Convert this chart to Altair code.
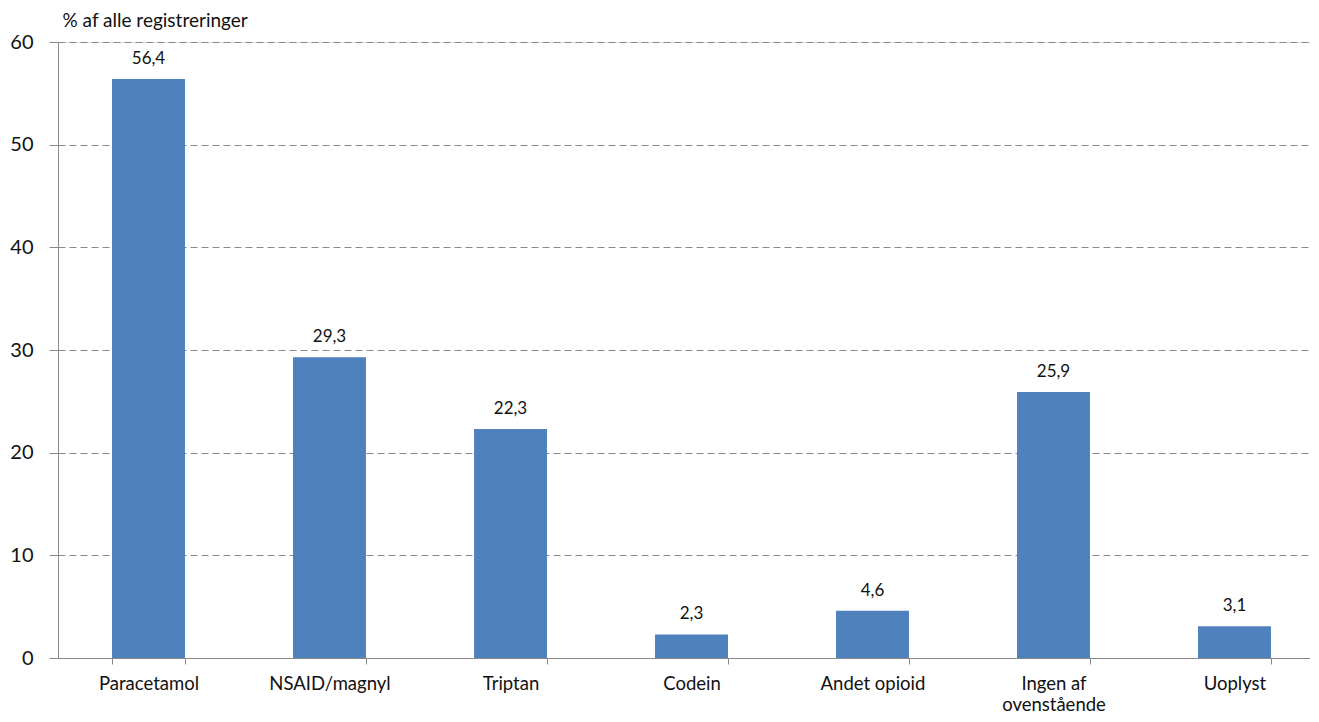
import altair as alt
import pandas as pd

categories = ["Paracetamol", "NSAID/magnyl", "Triptan", "Codein", "Andet opioid", "Ingen af ovenstående", "Uoplyst"]
values = [56.4, 29.3, 22.3, 2.3, 4.6, 25.9, 3.1]

df = pd.DataFrame({"kategori": categories, "pct": values})

FONT = "Lato"
x = alt.X("kategori:N", sort=categories, title=None,
          scale=alt.Scale(paddingInner=0.597, paddingOuter=0.2985, range=[0, 1267]),
          axis=alt.Axis(labelAngle=0, labelFontSize=18.5, labelColor="#111", labelFont=FONT,
                        labelPadding=10, labelLineHeight=21,
                        labelExpr="datum.label == 'Ingen af ovenstående' ? ['Ingen af', 'ovenstående'] : datum.label",
                        domainColor="#888", tickColor="#888", tickSize=6, tickBand="extent",
                        grid=False))
y = alt.Y("pct:Q", scale=alt.Scale(domain=[0, 60]),
          axis=alt.Axis(values=[0, 10, 20, 30, 40, 50, 60], labelFontSize=20, labelFont=FONT,
                        labelColor="#111", labelPadding=16, tickSize=9, tickColor="#888",
                        domainColor="#888", gridColor="#888", gridDash=[7, 4], gridWidth=1,
                        title="% af alle registreringer", titleAngle=0, titleAlign="left",
                        titleBaseline="middle", titleX=4, titleY=-22, titleFontSize=19,
                        titleFontWeight="normal", titleFont=FONT, titleColor="#111"))

bars = alt.Chart(df).mark_bar(color="#4F81BD").encode(x=x, y=y)
labels = alt.Chart(df).transform_calculate(
    lab="replace(format(datum.pct, '.1f'), '.', ',')"
).mark_text(dy=-20, fontSize=17, font=FONT, color="#111", baseline="middle").encode(
    x=alt.X("kategori:N", sort=categories), y="pct:Q", text="lab:N")

chart = (bars + labels).properties(
    width=1252, height=616,
    autosize=alt.AutoSizeParams(type="none"),
    padding={"left": 50, "top": 34, "right": 0, "bottom": 56},
).configure_view(stroke=None).configure(background="white")

chart.save("out.html", embed_options={"renderer": "svg", "actions": False})
